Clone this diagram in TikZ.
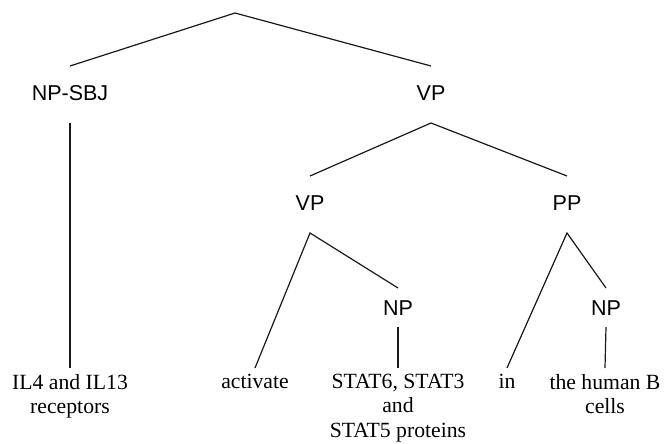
\documentclass[tikz,border=0pt]{standalone}
\usepackage{fontspec}
\setmainfont{Liberation Serif}
\newfontfamily\labfont{Liberation Sans}
\begin{document}
\begin{tikzpicture}[x=1pt,y=-1pt,
  lab/.style={font=\labfont\fontsize{21.5}{25}\selectfont, inner sep=0pt, anchor=base,
              text height=15pt, text depth=2pt, outer ysep=20pt, outer xsep=0pt},
  labnp/.style={lab, text depth=0pt, outer ysep=12pt},
  leaf/.style={font=\fontsize{21.7}{24.6}\selectfont, align=center, inner sep=0pt,
               anchor=north, outer ysep=6pt, outer xsep=0pt},
  edge/.style={line width=1.2pt, draw=black!90}]
\useasboundingbox (0,0) rectangle (665,444);
\coordinate (root) at (235,13);
\node[lab] (npsbj) at (70,101) {NP-SBJ};
\node[lab] (vp) at (431,101) {VP};
\node[lab] (vp2) at (310,211) {VP};
\node[lab] (pp) at (567,211) {PP};
\node[labnp] (np1) at (398,315) {NP};
\node[labnp] (np2) at (606,315) {NP};
\node[leaf] (w1) at (70,368) {IL4 and IL13\\receptors};
\node[leaf] (w2) at (255,368) {activate};
\node[leaf] (w3) at (398,368) {STAT6, STAT3\\and\\STAT5 proteins};
\node[leaf] (w4) at (507,368) {in};
\node[leaf] (w5) at (605,368) {the human B\\cells};
\draw[edge] (npsbj.north) -- (root) -- (vp.north);
\draw[edge] (npsbj.south) -- (w1.north);
\draw[edge] (vp2.north) -- (vp.south) -- (pp.north);
\draw[edge] (w2.north) -- (vp2.south) -- (np1.north);
\draw[edge] (np1.south) -- (w3.north);
\draw[edge] (w4.north) -- (pp.south) -- (np2.north);
\draw[edge] (np2.south) -- (w5.north);
\end{tikzpicture}
\end{document}
